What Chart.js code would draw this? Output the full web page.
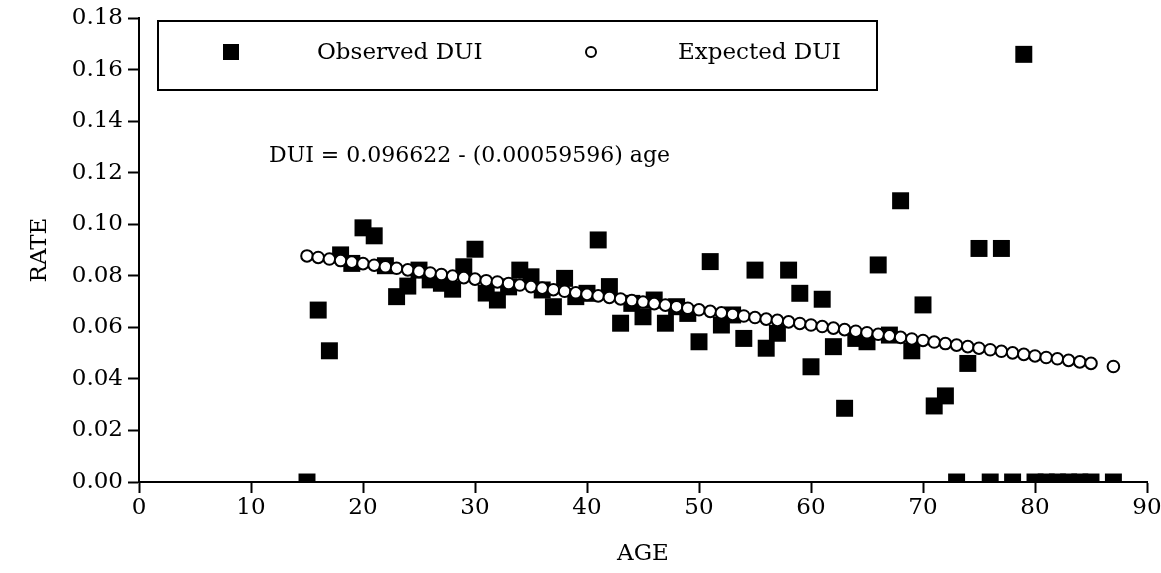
<!DOCTYPE html>
<html>
<head>
<meta charset="utf-8">
<script src="https://cdn.jsdelivr.net/npm/chart.js@4/dist/chart.umd.min.js"></script>
<style>
  html, body { margin: 0; padding: 0; background: #fff; }
  #wrap { width: 1161px; height: 573px; position: relative; }
</style>
</head>
<body>
<div id="wrap"><canvas id="c" width="1161" height="573"></canvas></div>
<script>
// ---- data ----
const ages = [15,16,17,18,19,20,21,22,23,24,25,26,27,28,29,30,31,32,33,34,35,36,37,38,39,40,
  41,42,43,44,45,46,47,48,49,50,51,52,53,54,55,56,57,58,59,60,61,62,63,64,65,66,67,68,69,70,
  71,72,73,74,75,76,77,78,79,80,81,82,83,84,85,87];
const observedDUI = [0.0000,0.0667,0.0509,0.0881,0.0848,0.0986,0.0955,0.0839,0.0719,0.0760,
  0.0822,0.0784,0.0771,0.0748,0.0835,0.0903,0.0733,0.0706,0.0757,0.0822,0.0796,0.0745,0.0680,
  0.0790,0.0719,0.0732,0.0939,0.0758,0.0616,0.0693,0.0641,0.0706,0.0616,0.0680,0.0654,0.0544,
  0.0855,0.0609,0.0648,0.0557,0.0822,0.0519,0.0577,0.0822,0.0732,0.0447,0.0709,0.0525,0.0286,
  0.0557,0.0544,0.0842,0.0570,0.1091,0.0509,0.0687,0.0295,0.0334,0.0000,0.0460,0.0906,0.0000,
  0.0906,0.0000,0.1659,0.0000,0.0000,0.0000,0.0000,0.0000,0.0000,0.0000];
const expectedDUI = [0.0877,0.0871,0.0865,0.0859,0.0853,0.0847,0.0841,0.0835,0.0829,0.0823,
  0.0817,0.0811,0.0805,0.0799,0.0793,0.0787,0.0781,0.0776,0.0770,0.0764,0.0758,0.0752,0.0746,
  0.0740,0.0734,0.0728,0.0722,0.0716,0.0710,0.0704,0.0698,0.0692,0.0686,0.0680,0.0674,0.0668,
  0.0662,0.0656,0.0650,0.0644,0.0638,0.0632,0.0627,0.0621,0.0615,0.0609,0.0603,0.0597,0.0591,
  0.0585,0.0579,0.0573,0.0567,0.0561,0.0555,0.0549,0.0543,0.0537,0.0531,0.0525,0.0519,0.0513,
  0.0507,0.0501,0.0495,0.0489,0.0483,0.0478,0.0472,0.0466,0.0460,0.0448];
const xTickValues = [0,10,20,30,40,50,60,70,80,90];
const yTickValues = [0.00,0.02,0.04,0.06,0.08,0.10,0.12,0.14,0.16,0.18];
const seriesNames = ['Observed DUI','Expected DUI'];
const equationText = 'DUI = 0.096622 - (0.00059596) age';
const xTitle = 'AGE';
const yTitle = 'RATE';

const FONT = '"DejaVu Serif", "Liberation Serif", serif';

const overlay = {
  id: 'overlay',
  afterDraw(chart) {
    const ctx = chart.ctx;
    ctx.save();
    // legend box
    ctx.strokeStyle = '#000';
    ctx.lineWidth = 2;
    ctx.strokeRect(158, 21, 719, 69);
    // observed marker
    ctx.fillStyle = '#000';
    ctx.fillRect(223, 44, 16, 16);
    // expected marker
    ctx.beginPath();
    ctx.arc(591, 52, 5, 0, Math.PI * 2);
    ctx.fillStyle = '#fff';
    ctx.fill();
    ctx.lineWidth = 2;
    ctx.stroke();
    ctx.fillStyle = '#000';
    ctx.textBaseline = 'middle';
    ctx.textAlign = 'left';
    ctx.font = '23px ' + FONT;
    ctx.fillText(seriesNames[0], 317, 53);
    ctx.fillText(seriesNames[1], 678, 53);
    ctx.font = '22px ' + FONT;
    ctx.fillText(equationText, 269, 156);
    ctx.restore();
  }
};

new Chart(document.getElementById('c'), {
  type: 'scatter',
  data: {
    datasets: [
      {
        label: seriesNames[0],
        data: ages.map((a, i) => ({ x: a, y: observedDUI[i] })),
        pointStyle: 'rect',
        pointRadius: 12,
        pointBackgroundColor: '#000',
        pointBorderColor: '#000',
        pointBorderWidth: 0,
        order: 2
      },
      {
        label: seriesNames[1],
        data: ages.map((a, i) => ({ x: a, y: expectedDUI[i] })),
        pointStyle: 'circle',
        pointRadius: 5.8,
        pointBackgroundColor: '#fff',
        pointBorderColor: '#000',
        pointBorderWidth: 2,
        order: 1
      }
    ]
  },
  options: {
    responsive: false,
    animation: false,
    events: [],
    layout: { padding: { top: 18, right: 14, left: 0, bottom: 0 } },
    plugins: { legend: { display: false }, tooltip: { enabled: false } },
    scales: {
      x: {
        type: 'linear', min: 0, max: 90,
        afterBuildTicks(s) { s.ticks = xTickValues.map(v => ({ value: v })); },
        afterFit(s) { s.height = 91; s.paddingLeft = 0; s.paddingRight = 0; },
        grid: { drawOnChartArea: false, drawTicks: true, tickLength: 11, tickColor: '#000', tickWidth: 2 },
        border: { display: true, color: '#000', width: 2 },
        ticks: { color: '#000', font: { family: FONT, size: 23 }, padding: 1, maxRotation: 0, autoSkip: false },
        title: { display: true, text: xTitle, color: '#000', font: { family: FONT, size: 23 }, padding: { top: 0, bottom: 5 } }
      },
      y: {
        type: 'linear', min: 0, max: 0.18,
        afterBuildTicks(s) { s.ticks = yTickValues.map(v => ({ value: v })); },
        afterFit(s) { s.width = 139; s.paddingTop = 0; s.paddingBottom = 0; },
        grid: { drawOnChartArea: false, drawTicks: true, tickLength: 11, tickColor: '#000', tickWidth: 2 },
        border: { display: true, color: '#000', width: 2 },
        ticks: { color: '#000', font: { family: FONT, size: 23 }, padding: 5, autoSkip: false,
          callback: v => Number(v).toFixed(2) },
        title: { display: true, text: yTitle, color: '#000', font: { family: FONT, size: 23 }, padding: { top: 26, bottom: 0 } }
      }
    }
  },
  plugins: [overlay]
});
</script>
</body>
</html>
